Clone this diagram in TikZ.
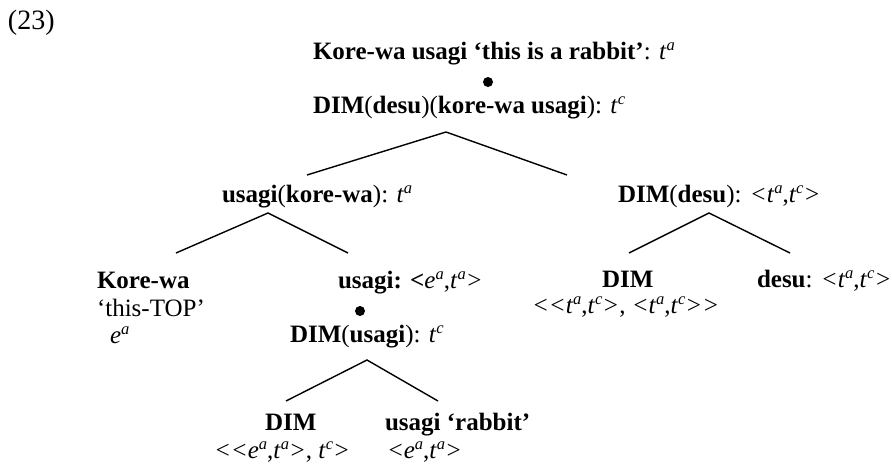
\documentclass[tikz,border=0pt]{standalone}
\usepackage{fontspec}
\setmainfont{Liberation Serif}
% italic type symbol with an italic superscript, e.g. t^a
\newcommand\supit[1]{\raisebox{.36em}{\fontsize{16.5}{16.5}\selectfont\itshape #1}}
\newcommand\ty[2]{\textit{#1}\supit{#2}}
\newcommand\lt{\textit{<}}
\newcommand\gt{\textit{>}}
\begin{document}
\begin{tikzpicture}[x=1pt,y=-1pt,
  lbl/.style={anchor=base west,inner sep=0pt,outer sep=0pt,font=\fontsize{25}{27}\selectfont},
  branch/.style={line width=1.4pt},
  mergedot/.style={circle,fill=black,inner sep=0pt,minimum size=10pt}]
\useasboundingbox (0,0) rectangle (892,466);

% example number
\node[lbl,font=\fontsize{28}{30}\selectfont] (num) at (8,29) {(23)};

% root: the sentence and its DIM-applied form
\node[lbl] (root) at (313,59) {\textbf{Kore-wa usagi ‘this is a rabbit’}: \ty{t}{a}};
\node[mergedot] (dotA) at (488,82) {};
\node[lbl] (rootdim) at (313,113) {\textbf{DIM}(\textbf{desu})(\textbf{kore-wa usagi}): \ty{t}{c}};

\coordinate (apexA) at (446,132);
\coordinate (endAL) at (307,175);
\coordinate (endAR) at (567,175);
\draw[branch] (endAL) -- (apexA) -- (endAR);

% first level
\node[lbl] (subj) at (222,202) {\textbf{usagi}(\textbf{kore-wa}): \ty{t}{a}};
\node[lbl] (pred) at (618,202) {\textbf{DIM}(\textbf{desu}): \lt\ty{t}{a},\ty{t}{c}\gt};

\coordinate (apexB) at (268,213);
\coordinate (endBL) at (176,253);
\coordinate (endBR) at (348,253);
\draw[branch] (endBL) -- (apexB) -- (endBR);

\coordinate (apexC) at (709,213);
\coordinate (endCL) at (629,253);
\coordinate (endCR) at (790,253);
\draw[branch] (endCL) -- (apexC) -- (endCR);

% second level, left
\node[lbl] (korewa) at (97,288) {\textbf{Kore-wa}};
\node[lbl] (korewagl) at (97,316) {‘this-TOP’};
\node[lbl] (korewaty) at (110,343) {\ty{e}{a}};

\node[lbl] (usagi) at (338,288) {\textbf{usagi: <}\ty{e}{a},\ty{t}{a}\gt};
\node[mergedot] (dotB) at (360,311) {};
\node[lbl] (usagidim) at (290,342) {\textbf{DIM}(\textbf{usagi}): \ty{t}{c}};

\coordinate (apexD) at (367,360);
\coordinate (endDL) at (286,401);
\coordinate (endDR) at (438,401);
\draw[branch] (endDL) -- (apexD) -- (endDR);

% second level, right
\node[lbl] (dimR) at (602,287) {\textbf{DIM}};
\node[lbl] (dimRty) at (532,313) {\lt\lt\ty{t}{a},\ty{t}{c}\gt, \lt\ty{t}{a},\ty{t}{c}\gt\gt};
\node[lbl] (desu) at (757,287) {\textbf{desu}: \lt\ty{t}{a},\ty{t}{c}\gt};

% third level
\node[lbl] (dimL) at (265,430) {\textbf{DIM}};
\node[lbl] (dimLty) at (214,458) {\lt\lt\ty{e}{a},\ty{t}{a}\gt, \ty{t}{c}\gt};
\node[lbl] (rabbit) at (385,430) {\textbf{usagi ‘rabbit’}};
\node[lbl] (rabbitty) at (387,458) {\lt\ty{e}{a},\ty{t}{a}\gt};
\end{tikzpicture}
\end{document}
